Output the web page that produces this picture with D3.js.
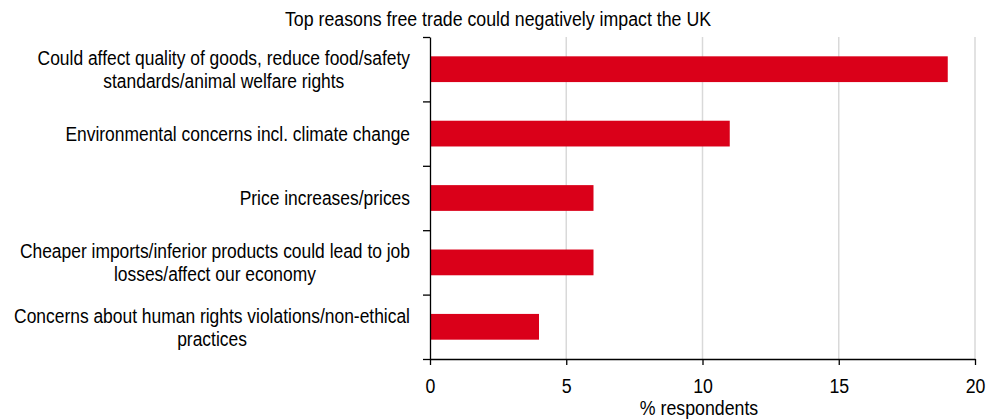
<!DOCTYPE html>
<html>
<head>
<meta charset="utf-8">
<script src="https://cdn.jsdelivr.net/npm/d3@7"></script>
<style>
  body { margin: 0; background: #fff; }
  svg text { font-family: "Liberation Sans", Arial, sans-serif; fill: #000; }
</style>
</head>
<body>
<div class="chart"></div>
<script>
// reasons, top to bottom
categories = [
  ["Could affect quality of goods, reduce food/safety", "standards/animal welfare rights"],
  ["Environmental concerns incl. climate change"],
  ["Price increases/prices"],
  ["Cheaper imports/inferior products could lead to job", "losses/affect our economy"],
  ["Concerns about human rights violations/non-ethical", "practices"]
];
values = [19, 11, 6, 6, 4];
xTicks = [0, 5, 10, 15, 20];
title = "Top reasons free trade could negatively impact the UK";
xLabel = "% respondents";

width = 996;
height = 419;
margin = ({top: 37, right: 21, bottom: 60, left: 430});
squeeze = 0.845;   // the source font is a narrow-looking Arial

svg = d3.select('.chart').append('svg')
    .attr("width", width)
    .attr("height", height)
    .style("font-size", "21px");

keys = categories.map((c, i) => i);

scaleX = d3.scaleLinear()
    .domain([0, 20])
    .range([margin.left, width - margin.right]);

scaleY = d3.scaleBand()
    .domain(keys)
    .range([margin.top, height - margin.bottom])
    .paddingInner(0.6)
    .paddingOuter(0.3);

// boundaries between categories (for the tick marks on the y axis)
edgeY = d3.scaleLinear()
    .domain([0, categories.length])
    .range([margin.top, height - margin.bottom]);

// gridlines
svg.append("g")
    .selectAll("line")
    .data(xTicks.slice(1))
    .join("line")
    .attr("x1", d => scaleX(d)).attr("x2", d => scaleX(d))
    .attr("y1", margin.top).attr("y2", height - margin.bottom)
    .attr("stroke", "#d9d9d9")
    .attr("stroke-width", 1.5);

// bars
svg.append("g")
    .selectAll("rect")
    .data(values)
    .join("rect")
    .attr("x", scaleX(0))
    .attr("y", (d, i) => scaleY(i))
    .attr("width", d => scaleX(d) - scaleX(0))
    .attr("height", scaleY.bandwidth())
    .attr("fill", "#da0019");

// x axis
xAxis = g => g
    .attr("transform", `translate(0, ${height - margin.bottom})`)
    .call(d3.axisBottom(scaleX).tickValues(xTicks).tickSize(6).tickSizeOuter(0).tickPadding(13))
    .call(g => g.select(".domain").attr("stroke", "#000").attr("stroke-width", 1.3))
    .call(g => g.selectAll(".tick line").attr("stroke", "#000").attr("stroke-width", 1.3))
    .call(g => g.selectAll(".tick text")
        .style("font-size", "21px").attr("font-family", null)
        .attr("transform", `scale(${squeeze},1)`));

// y axis: ticks at the category edges, no text
yAxis = g => g
    .attr("transform", `translate(${margin.left}, 0)`)
    .call(d3.axisLeft(edgeY).tickValues(d3.range(categories.length + 1)).tickFormat("").tickSize(7).tickSizeOuter(0))
    .call(g => g.select(".domain").attr("stroke", "#000").attr("stroke-width", 1.3))
    .call(g => g.selectAll(".tick line").attr("stroke", "#000").attr("stroke-width", 1.3));

svg.append("g").call(xAxis);
svg.append("g").call(yAxis);

// category labels: lines centred on each other, block flush right
labelRight = 410;
lineGap = 23;
categories.forEach((lines, i) => {
  cy = scaleY(i) + scaleY.bandwidth() / 2;
  g = svg.append("g")
      .attr("transform", `translate(${labelRight}, ${cy}) scale(0.83,1)`);
  texts = g.selectAll("text")
      .data(lines)
      .join("text")
      .attr("text-anchor", "middle")
      .attr("dy", "0.35em")
      .attr("y", (d, j) => (j - (lines.length - 1) / 2) * lineGap)
      .text(d => d);
  maxW = d3.max(texts.nodes(), n => n.getComputedTextLength());
  texts.attr("x", -maxW / 2);
});

// title
svg.append("text")
    .attr("transform", `translate(498, 26) scale(${squeeze},1)`)
    .attr("text-anchor", "middle")
    .text(title);

// x axis label
svg.append("text")
    .attr("transform", `translate(699, 415) scale(${squeeze},1)`)
    .attr("text-anchor", "middle")
    .text(xLabel);
</script>
</body>
</html>
